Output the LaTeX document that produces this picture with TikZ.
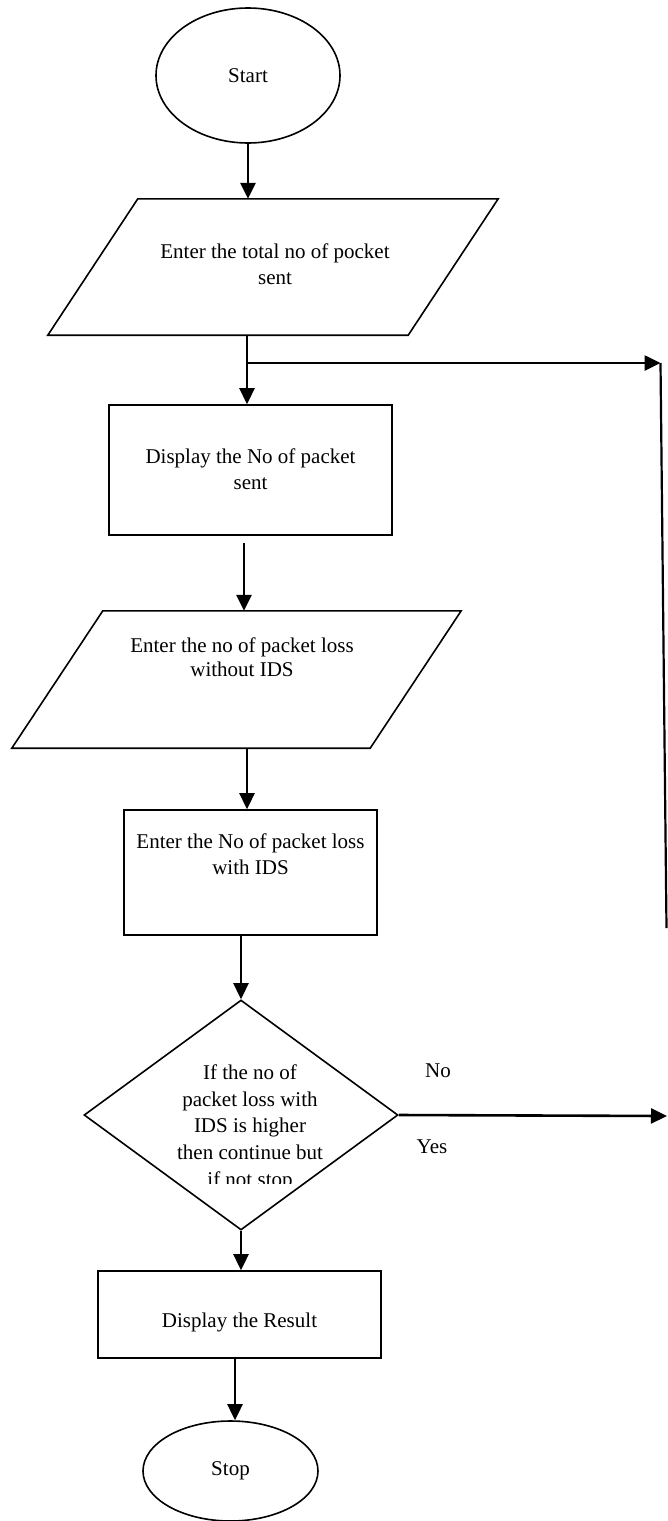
\documentclass[tikz,border=0pt]{standalone}
\usepackage{fontspec}
\setmainfont{Liberation Serif}
\usetikzlibrary{shapes.geometric,arrows.meta}
\begin{document}
\begin{tikzpicture}[x=1pt,y=-1pt,
  shapeline/.style={draw=black,line width=1.6pt},
  terminal/.style={shapeline,ellipse,inner sep=0pt,font=\fontsize{21}{26}\selectfont},
  procbox/.style={shapeline,rectangle,inner sep=0pt},
  iobox/.style={rectangle,inner sep=0pt},
  decision/.style={shapeline,diamond,inner sep=0pt},
  arr/.style={line width=2.6pt,-{Triangle[length=16pt,width=15pt]}},
  plainline/.style={line width=2.2pt},
  txt/.style={inner sep=0pt,align=center,font=\fontsize{21}{26}\selectfont},
]
\useasboundingbox (0,0) rectangle (667,1521);

% terminals
\node[terminal,minimum width=184pt,minimum height=135pt] (start) at (248,75.5) {Start};
\node[terminal,minimum width=175pt,minimum height=100pt] (stop) at (230.5,1471) {Stop};

% input / output parallelograms: a frame node, outline slanted by about 90pt
\node[iobox,minimum width=450pt,minimum height=136pt] (p1) at (273,267) {};
\draw[shapeline] ([xshift=90pt]p1.north west) -- (p1.north east)
  -- ([xshift=-90pt]p1.south east) -- (p1.south west) -- cycle;
\node[txt,anchor=north] (tp1) at (275,244) {Enter the total no of pocket\\sent};

\node[iobox,minimum width=449pt,minimum height=137pt] (p2) at (236.5,679.5) {};
\draw[shapeline] ([xshift=91pt]p2.north west) -- (p2.north east)
  -- ([xshift=-91pt]p2.south east) -- (p2.south west) -- cycle;
\node[txt,anchor=north,font=\fontsize{21}{24}\selectfont] (tp2) at (242,637.5)
  {Enter the no of packet loss\\without IDS};

% process boxes
\node[procbox,minimum width=283pt,minimum height=130pt] (b1) at (250.5,470) {};
\node[txt,anchor=north] (tb1) at (250.5,448.5) {Display the No of packet\\sent};

\node[procbox,minimum width=253pt,minimum height=125pt] (b2) at (250.5,872.5) {};
\node[txt,anchor=north] (tb2) at (250.5,833.5) {Enter the No of packet loss\\with IDS};

\node[procbox,minimum width=283pt,minimum height=87pt] (b3) at (239.5,1314.5) {};
\node[txt,anchor=base] (tb3) at (239.5,1327) {Display the Result};

% decision
\node[decision,minimum width=314pt,minimum height=230pt] (d) at (241,1115) {};
\begin{scope}
  \clip (140,1050) rectangle (360,1183.5);
  \node[txt,anchor=north,font=\fontsize{21}{26.7}\selectfont] (td) at (250,1064.5)
    {If the no of\\packet loss with\\IDS is higher\\then continue but\\if not stop};
\end{scope}
\node[txt,anchor=base] (lno) at (438,1077) {No};
\node[txt,anchor=base] (lyes) at (432,1153) {Yes};

% connectors
\coordinate (j1) at (247,363);
\coordinate (r1) at (660.5,363);
\coordinate (r2) at (666.5,928);
\coordinate (r3) at (667,1116);

\draw[arr] (start.south) -- (start.south |- p1.north);
\draw[arr] (j1 |- p1.south) -- (j1 |- b1.north);
\draw[arr] (j1) -- (r1);
\draw[plainline] (r1) -- (r2);
\draw[arr,shorten <=7pt] ([xshift=-6.5pt]b1.south) -- ([xshift=-6.5pt]b1.south |- p2.north);
\draw[arr] (j1 |- p2.south) -- (j1 |- b2.north);
\draw[arr] (d.north |- b2.south) -- (d.north);
\draw[arr] (d.south) -- (d.south |- b3.north);
\draw[arr] (d.east) -- (r3);
\draw[arr] ([xshift=-4.5pt]b3.south) -- ([xshift=-4.5pt]b3.south |- stop.north);
\end{tikzpicture}
\end{document}
